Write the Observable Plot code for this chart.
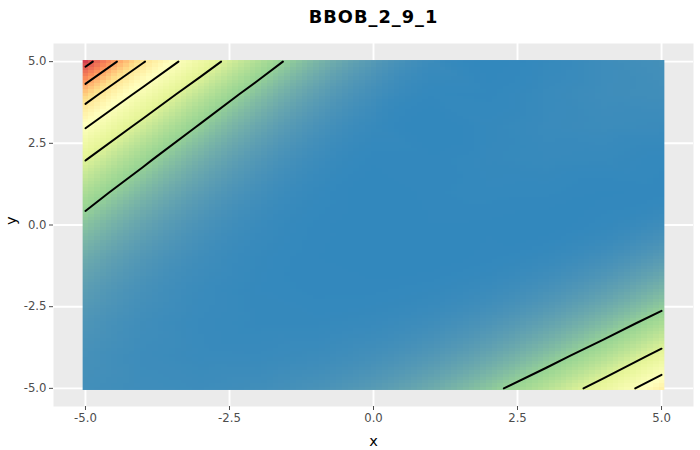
<!DOCTYPE html>
<html><head><meta charset="utf-8">
<script src="https://cdn.jsdelivr.net/npm/d3@7"></script>
<script src="https://cdn.jsdelivr.net/npm/@observablehq/plot@0.6"></script>
<style>
html,body{margin:0;padding:0;background:#fff;}
#chart{width:700px;height:450px;}
</style></head><body><div id="chart"></div>
<script>
const title = "BBOB_2_9_1";
const xValues = [-5, -4, -3, -2, -1, 0, 1, 2, 3, 4, 5];
const yValues = [5, 4, 3, 2, 1, 0, -1, -2, -3, -4, -5];
// f values, one row per y (top to bottom), one column per x
const fRows = [
  [316480, 203280, 122370, 67310, 32290, 12240, 2730, 22, 1067, 3492, 5607],
  [222600, 136920, 77790, 39390, 16550, 4833, 443, 284, 1935, 3661, 4404],
  [152330, 89070, 47200, 21530, 7544, 1417, 1.5, 832, 2123, 2775, 2364],
  [101150, 55750, 27180, 10870, 2949, 226, 186, 999, 1516, 1269, 473],
  [65030, 33500, 14810, 5043, 961, 2.7, 292, 632, 510, 93, 228],
  [40500, 19370, 7705, 2211, 287, 6.5, 129, 92, 17, 707, 3644],
  [24560, 10940, 3983, 1042, 147, 8.3, 18, 250, 1461, 5086, 13245],
  [14750, 6279, 2274, 718, 276, 292, 795, 2493, 6777, 15720, 32070],
  [9106, 3987, 1724, 935, 919, 1656, 3809, 8721, 18420, 35610, 63670],
  [6186, 3170, 1991, 1902, 2837, 5410, 10920, 21350, 39340, 68260, 112120],
  [5059, 3447, 3245, 4340, 7301, 13380, 24500, 43290, 73040, 117710, 181980]
];
const contourLevels = [50000, 100000, 150000, 200000, 250000, 300000];
const tickValues = [-5, -2.5, 0, 2.5, 5];
const spectralColors = ["#3288BD", "#99D594", "#E6F598", "#FFFFBF", "#FEE08B", "#FC8D59", "#D53E4F"];

// The surface is close to quartic away from the valley: interpolate in f^(1/4)
// and map colours back with a pow(4) scale, so colours stay linear in f.
const root = f => Math.pow(f, 0.25);
const samples = [];
yValues.forEach((y, j) => xValues.forEach((x, i) => samples.push({x, y, v: root(fRows[j][i])})));
const vFlat = fRows.flat().map(root);

// contour lines (open lines, without the grid border)
const nx = xValues.length, ny = yValues.length;
const stepX = xValues[1] - xValues[0], stepY = yValues[1] - yValues[0];
const onBorder = p => p[0] <= 0 || p[0] >= nx || p[1] <= 0 || p[1] >= ny;
const lines = [];
let lineId = 0;
for (const c of d3.contours().size([nx, ny]).thresholds(contourLevels.map(root))(vFlat)) {
  for (const poly of c.coordinates) for (const ring of poly) {
    const pts = ring.slice(0, -1);
    const start = pts.findIndex(onBorder);
    const runs = [];
    if (start < 0) runs.push(ring);
    else {
      let cur = [];
      for (let k = 1; k <= pts.length; k++) {
        const p = pts[(start + k) % pts.length];
        if (onBorder(p)) { if (cur.length > 1) runs.push(cur); cur = []; }
        else cur.push(p);
      }
    }
    for (const run of runs) {
      for (const p of run) lines.push({
        id: lineId,
        x: xValues[0] + (p[0] - 0.5) * stepX,
        y: yValues[0] + (p[1] - 0.5) * stepY
      });
      lineId++;
    }
  }
}

const lo = d3.min(xValues) - 0.05, hi = d3.max(xValues) + 0.05;
const pad = (hi - lo) * 0.05;
const eps = 0.001;

const chart = Plot.plot({
  width: 700, height: 450,
  marginLeft: 53, marginRight: 7, marginTop: 43, marginBottom: 44,
  style: {fontFamily: "'DejaVu Sans', sans-serif", background: "#fff", color: "#4D4D4D"},
  x: {domain: [lo - pad, hi + pad], label: null},
  y: {domain: [lo - pad, hi + pad], label: null},
  color: {type: "pow", exponent: 4, interpolate: d3.piecewise(d3.interpolateLab, spectralColors), domain: d3.extent(vFlat)},
  marks: [
    Plot.frame({fill: "#EBEBEB", stroke: "none"}),
    Plot.gridX(tickValues, {stroke: "#fff", strokeOpacity: 1, strokeWidth: 1.9}),
    Plot.gridY(tickValues, {stroke: "#fff", strokeOpacity: 1, strokeWidth: 1.9}),
    Plot.raster(samples, {x: "x", y: "y", fill: "v", interpolate: "barycentric",
      x1: lo + eps, x2: hi - eps, y1: lo + eps, y2: hi - eps, width: 101, height: 101, imageRendering: "pixelated"}),
    Plot.line(lines, {x: "x", y: "y", z: "id", stroke: "#000", strokeWidth: 2}),
    Plot.axisX(tickValues, {tickFormat: d => d.toFixed(1), tickSize: 4, tickPadding: 3, fontSize: 11.7, color: "#4D4D4D", label: null}),
    Plot.axisY(tickValues, {tickFormat: d => d.toFixed(1), tickSize: 4, tickPadding: 3, fontSize: 11.7, color: "#4D4D4D", label: null}),
    Plot.text([title], {text: d => d, frameAnchor: "top", dy: -26.5, lineAnchor: "middle", fontSize: 17.8, fontWeight: "bold", fill: "#000"}),
    Plot.text(["x"], {text: d => d, frameAnchor: "bottom", dy: 35, lineAnchor: "middle", fontSize: 14.6, fill: "#000"}),
    Plot.text(["y"], {text: d => d, frameAnchor: "left", dx: -42, rotate: -90, fontSize: 14.6, fill: "#000"})
  ]
});
for (const t of chart.querySelectorAll("text")) {
  if (t.textContent === title) t.style.letterSpacing = "1px";
}
document.getElementById("chart").appendChild(chart);
</script></body></html>
